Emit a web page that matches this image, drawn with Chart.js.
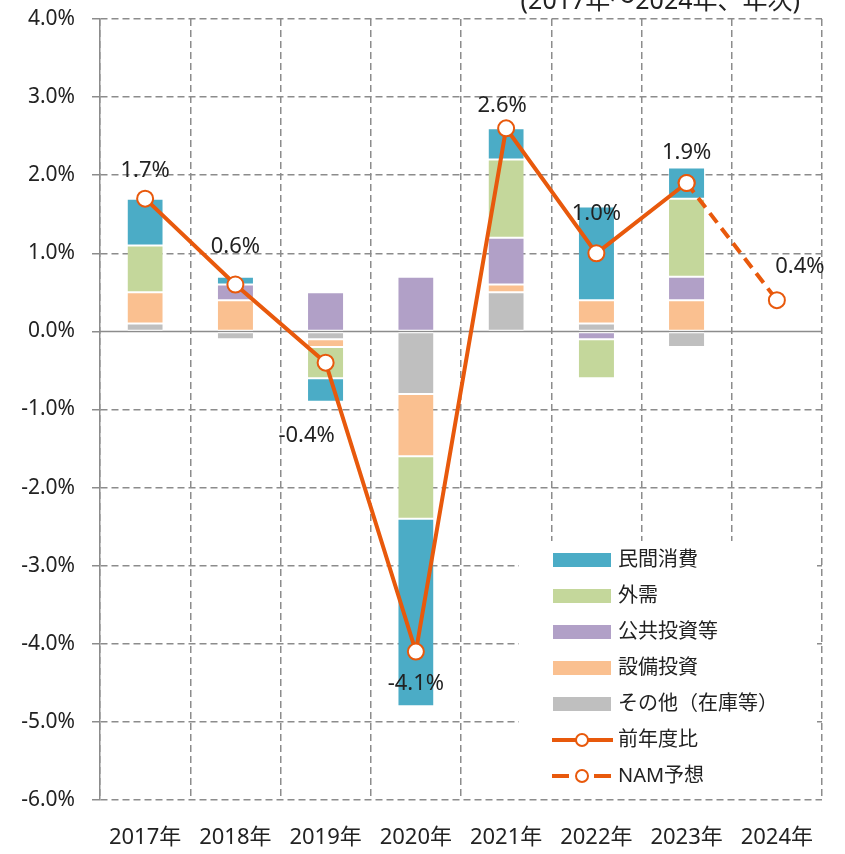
<!DOCTYPE html>
<html>
<head>
<meta charset="utf-8">
<script src="https://cdn.jsdelivr.net/npm/chart.js@4.4.1/dist/chart.umd.min.js"></script>
<style>
  html, body { margin: 0; padding: 0; background: #fff; }
</style>
</head>
<body>
<canvas id="gdpChart" width="845" height="854"></canvas>
<script>
// データ（寄与度、%）
const years = ['2017年', '2018年', '2019年', '2020年', '2021年', '2022年', '2023年', '2024年'];
const consumption = [0.6, 0.1, -0.3, -2.4, 0.4, 1.2, 0.4, null];      // 民間消費
const externalDemand = [0.6, 0, -0.4, -0.8, 1.0, -0.5, 1.0, null];    // 外需
const publicInvest = [0, 0.2, 0.5, 0.7, 0.6, -0.1, 0.3, null];        // 公共投資等
const capex = [0.4, 0.4, -0.1, -0.8, 0.1, 0.3, 0.4, null];            // 設備投資
const others = [0.1, -0.1, -0.1, -0.8, 0.5, 0.1, -0.2, null];         // その他（在庫等）
const growth = [1.7, 0.6, -0.4, -4.1, 2.6, 1.0, 1.9, null];           // 前年度比
const forecast = [null, null, null, null, null, null, 1.9, 0.4];      // NAM予想
const yTicks = [4, 3, 2, 1, 0, -1, -2, -3, -4, -5, -6];

const FONT = "'Noto Sans', 'Noto Sans CJK JP', sans-serif";
const ORANGE = '#E8590C';
const GRID = '#8c8c8c';

// ラベル位置の調整 (px)
const labelShift = [[0, -28], [0, -38], [-19, 73], [0, 32], [-4, -23], [0, -40], [0, -30], [23, -33]];

const barDs = (label, data, color) => ({
    label, data,
    backgroundColor: color,
    borderColor: '#fff',
    borderWidth: { top: 1, bottom: 1, left: 0, right: 0 },
    borderSkipped: false,
    stack: 'bars',
    barPercentage: 0.39,
    categoryPercentage: 1,
    order: 1
});

const lineDs = (label, data, stack, dash) => ({
    type: 'line',
    label, data, stack,
    borderColor: ORANGE,
    borderWidth: 4,
    borderDash: dash,
    pointRadius: 8,
    pointHoverRadius: 8,
    pointBackgroundColor: '#fff',
    pointBorderColor: ORANGE,
    pointBorderWidth: 2,
    tension: 0,
    order: -1
});

// ゼロ線（実線）
const zeroLine = {
    id: 'zeroLine',
    beforeDatasetsDraw(chart) {
        const { ctx, chartArea, scales: { y } } = chart;
        const py = y.getPixelForValue(0);
        ctx.save();
        ctx.strokeStyle = GRID;
        ctx.lineWidth = 1.5;
        ctx.beginPath();
        ctx.moveTo(chartArea.left, py);
        ctx.lineTo(chartArea.right, py);
        ctx.stroke();
        ctx.restore();
    }
};

// 値ラベル + 凡例 + 注記
const extras = {
    id: 'extras',
    afterDraw(chart) {
        const ctx = chart.ctx;
        ctx.save();

        // 値ラベル
        ctx.font = '22px ' + FONT;
        ctx.fillStyle = '#222';
        ctx.textAlign = 'center';
        ctx.textBaseline = 'middle';
        [5, 6].forEach(di => {
            const meta = chart.getDatasetMeta(di);
            const data = chart.data.datasets[di].data;
            meta.data.forEach((pt, i) => {
                if (data[i] == null) return;
                if (di === 6 && i === 6) return; // 2023年は一回だけ
                const [dx, dy] = labelShift[i];
                ctx.fillText(data[i].toFixed(1) + '%', pt.x + dx, pt.y + dy);
            });
        });

        // 注記（上部で切れている）
        ctx.font = '25px ' + FONT;
        ctx.textAlign = 'right';
        ctx.textBaseline = 'alphabetic';
        ctx.fillText('(2017年～2024年、年次)', 800, 9);

        // 凡例
        ctx.fillStyle = '#fff';
        ctx.fillRect(519, 541, 298, 255);
        const order = [4, 3, 2, 1, 0, 5, 6];
        ctx.font = '20px ' + FONT;
        ctx.textAlign = 'left';
        ctx.textBaseline = 'middle';
        order.forEach((di, k) => {
            const ds = chart.data.datasets[di];
            const cy = 560 + k * 36;
            if (ds.type === 'line') {
                ctx.strokeStyle = ORANGE;
                ctx.lineWidth = 4;
                ctx.beginPath();
                if (ds.borderDash && ds.borderDash.length) {
                    ctx.moveTo(552, cy); ctx.lineTo(569, cy);
                    ctx.moveTo(594, cy); ctx.lineTo(611, cy);
                } else {
                    ctx.moveTo(552, cy); ctx.lineTo(613, cy);
                }
                ctx.stroke();
                ctx.beginPath();
                ctx.arc(582, cy, 6, 0, Math.PI * 2);
                ctx.fillStyle = '#fff';
                ctx.fill();
                ctx.lineWidth = 2;
                ctx.stroke();
            } else {
                ctx.fillStyle = ds.backgroundColor;
                ctx.fillRect(553, cy - 7, 58, 14);
            }
            ctx.fillStyle = '#222';
            ctx.fillText(ds.label, 618, cy);
        });
        ctx.restore();
    }
};

new Chart(document.getElementById('gdpChart').getContext('2d'), {
    type: 'bar',
    data: {
        labels: years,
        datasets: [
            barDs('その他（在庫等）', others, '#BFBFBF'),
            barDs('設備投資', capex, '#FAC090'),
            barDs('公共投資等', publicInvest, '#B1A0C7'),
            barDs('外需', externalDemand, '#C4D79B'),
            barDs('民間消費', consumption, '#4BACC6'),
            lineDs('前年度比', growth, 'growth', []),
            lineDs('NAM予想', forecast, 'forecast', [12, 7])
        ]
    },
    options: {
        responsive: false,
        animation: false,
        layout: { padding: { top: 19, right: 23, left: 0, bottom: 0 } },
        plugins: {
            legend: { display: false },
            tooltip: { enabled: false }
        },
        scales: {
            x: {
                stacked: true,
                afterFit: s => { s.height = 54; },
                grid: { offset: true, color: GRID, lineWidth: 1.5, drawTicks: false },
                border: { display: false, dash: [7, 4] },
                ticks: {
                    padding: 25,
                    autoSkip: false,
                    maxRotation: 0,
                    color: '#222',
                    font: { family: FONT, size: 22 }
                }
            },
            y: {
                stacked: true,
                min: -6,
                max: 4,
                afterFit: s => { s.width = 100; s.paddingTop = 0; s.paddingBottom = 0; },
                afterBuildTicks: s => { s.ticks = yTicks.map(v => ({ value: v })); },
                grid: {
                    color: c => (c.tick && c.tick.value === 0) ? 'rgba(0,0,0,0)' : GRID,
                    lineWidth: 1.5,
                    tickLength: 8,
                    tickColor: GRID,
                    tickBorderDash: []
                },
                border: { display: true, color: GRID, width: 1.5, dash: [7, 4] },
                ticks: {
                    padding: 17,
                    color: '#222',
                    font: { family: FONT, size: 21 },
                    callback: v => v.toFixed(1) + '%'
                }
            }
        }
    },
    plugins: [zeroLine, extras]
});
</script>
</body>
</html>
